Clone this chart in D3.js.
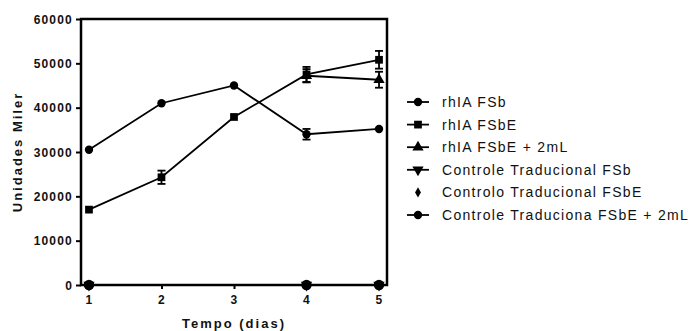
<!DOCTYPE html>
<html>
<head>
<meta charset="utf-8">
<script src="https://cdn.jsdelivr.net/npm/d3@7"></script>
<style>
  body { margin: 0; background: #fff; }
  svg { display: block; font-family: Arial, "Liberation Sans", sans-serif; }
  .tick-label { font-size: 12px; font-weight: bold; letter-spacing: 1.2px; fill: #111; }
  .axis-title { font-size: 13px; font-weight: bold; letter-spacing: 2px; fill: #111; }
  .legend-text { font-size: 14px; letter-spacing: 1.3px; fill: #111; }
</style>
</head>
<body>
<svg id="chart" width="690" height="331"></svg>
<script>
// days on the x axis
const days = [1, 2, 3, 4, 5];
const yTicks = [0, 10000, 20000, 30000, 40000, 50000, 60000];

// series values (null = not shown)
const rhiaFSb      = [30500, 41000, 45000, 34000, 35200];
const rhiaFSbErr   = [0, 0, 0, 1200, 0];
const rhiaFSbE     = [17000, 24300, 37900, 47500, 50800];
const rhiaFSbEErr  = [0, 1500, 0, 1700, 2000];
const rhiaFSbE2    = [null, null, null, 47200, 46300];
const rhiaFSbE2Err = [0, 0, 0, 1500, 1800];
const ctrlFSb      = [0, null, null, 0, 0];
const ctrlFSbE     = [0, null, null, 0, 0];
const ctrlFSbE2    = [0, null, null, 0, 0];

const seriesNames = [
    'rhIA FSb',
    'rhIA FSbE',
    'rhIA FSbE + 2mL',
    'Controle Traducional FSb',
    'Controlo Traducional FSbE',
    'Controle Traduciona FSbE + 2mL'
];

const series = [
    { name: seriesNames[0], values: rhiaFSb, err: rhiaFSbErr, symbol: 'circle', line: true },
    { name: seriesNames[1], values: rhiaFSbE, err: rhiaFSbEErr, symbol: 'square', line: true },
    { name: seriesNames[2], values: rhiaFSbE2, err: rhiaFSbE2Err, symbol: 'triangle', line: true },
    { name: seriesNames[3], values: ctrlFSb, err: null, symbol: 'triangleDown', line: true },
    { name: seriesNames[4], values: ctrlFSbE, err: null, symbol: 'diamond', line: false },
    { name: seriesNames[5], values: ctrlFSbE2, err: null, symbol: 'circle', line: true, big: true }
];

const svg = d3.select('#chart');
const margin = { left: 81, top: 19, right: 303, bottom: 46 };
const width = 690 - margin.left - margin.right;
const height = 331 - margin.top - margin.bottom;

const g = svg.append('g').attr('transform', `translate(${margin.left},${margin.top})`);

const xScale = d3.scaleLinear().domain([0.89, 5.11]).range([0, width]);
const yScale = d3.scaleLinear().domain([0, 60000]).range([height, 0]);

function symbolPath(type, size) {
    const map = {
        circle: d3.symbolCircle,
        square: d3.symbolSquare,
        triangle: d3.symbolTriangle,
        triangleDown: d3.symbolTriangle,
        diamond: d3.symbolDiamond
    };
    return d3.symbol().type(map[type]).size(size)();
}
const symbolSize = { circle: 55, square: 60, triangle: 55, triangleDown: 55, diamond: 30 };

// lines
const line = d3.line()
    .defined(d => d.v !== null)
    .x(d => xScale(d.x))
    .y(d => yScale(d.v));

series.forEach(function(s) {
    const pts = days.map((x, i) => ({ x: x, v: s.values[i], e: s.err ? s.err[i] : 0 }));
    if (s.line) {
        g.append('path')
            .attr('d', line(pts.filter(p => p.v !== null)))
            .attr('fill', 'none')
            .attr('stroke', '#000')
            .attr('stroke-width', 1.8);
    }
    // error bars
    pts.filter(p => p.v !== null && p.e > 0).forEach(function(p) {
        const cx = xScale(p.x);
        const y1 = yScale(p.v + p.e), y2 = yScale(p.v - p.e);
        const eb = g.append('g').attr('stroke', '#000').attr('stroke-width', 1.8);
        eb.append('line').attr('x1', cx).attr('x2', cx).attr('y1', y1).attr('y2', y2);
        eb.append('line').attr('x1', cx - 4).attr('x2', cx + 4).attr('y1', y1).attr('y2', y1);
        eb.append('line').attr('x1', cx - 4).attr('x2', cx + 4).attr('y1', y2).attr('y2', y2);
    });
    g.selectAll(null)
        .data(pts.filter(p => p.v !== null))
        .join('path')
        .attr('d', symbolPath(s.symbol, s.big ? 85 : symbolSize[s.symbol]))
        .attr('transform', d => `translate(${xScale(d.x)},${yScale(d.v)})` + (s.symbol === 'triangleDown' ? ' rotate(180)' : ''))
        .attr('fill', '#000');
});

// frame
g.append('rect')
    .attr('x', 0).attr('y', 0)
    .attr('width', width).attr('height', height)
    .attr('fill', 'none')
    .attr('stroke', '#000')
    .attr('stroke-width', 2.5);

// axes
const yAxis = d3.axisLeft(yScale).tickValues(yTicks).tickSize(5).tickPadding(3).tickFormat(d3.format('d'));
const xAxis = d3.axisBottom(xScale).tickValues(days).tickSize(4).tickPadding(6).tickFormat(d3.format('d'));

const yg = g.append('g').call(yAxis);
const xg = g.append('g').attr('transform', `translate(0,${height})`).call(xAxis);
[yg, xg].forEach(function(a) {
    a.select('.domain').remove();
    a.selectAll('.tick line').attr('stroke', '#000').attr('stroke-width', 2);
    a.selectAll('.tick text').attr('class', 'tick-label').attr('font-size', null).attr('font-family', null);
});
yg.selectAll('.tick text').attr('dy', '0.36em');

// axis titles
svg.append('text')
    .attr('class', 'axis-title')
    .attr('text-anchor', 'middle')
    .attr('x', margin.left + xScale(3))
    .attr('y', 328)
    .text('Tempo (dias)');

svg.append('text')
    .attr('class', 'axis-title')
    .attr('text-anchor', 'middle')
    .attr('transform', `translate(22,${margin.top + height / 2}) rotate(-90)`)
    .text('Unidades Miler');

// legend
const legend = svg.append('g').attr('transform', 'translate(407,102)');
const rowH = 22.6;
series.forEach(function(s, i) {
    const row = legend.append('g').attr('transform', `translate(0,${i * rowH})`);
    if (s.line) {
        row.append('line').attr('x1', 0).attr('x2', 22).attr('y1', 0).attr('y2', 0)
            .attr('stroke', '#000').attr('stroke-width', 1.8);
    }
    row.append('path')
        .attr('d', symbolPath(s.symbol, symbolSize[s.symbol]))
        .attr('transform', 'translate(11,0)' + (s.symbol === 'triangleDown' ? ' rotate(180)' : ''))
        .attr('fill', '#000');
    row.append('text')
        .attr('class', 'legend-text')
        .attr('x', 35)
        .attr('dy', '0.36em')
        .text(s.name);
});
</script>
</body>
</html>
